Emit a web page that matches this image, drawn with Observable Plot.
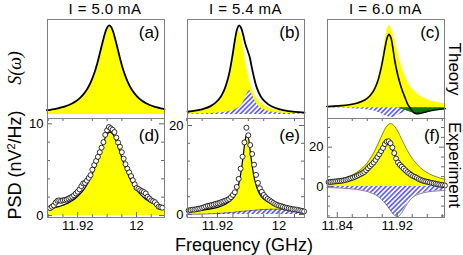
<!DOCTYPE html>
<html><head><meta charset="utf-8">
<script src="https://cdn.jsdelivr.net/npm/d3@7"></script>
<script src="https://cdn.jsdelivr.net/npm/@observablehq/plot@0.6"></script>
<style>
body{margin:0;background:#fff;}
#fig{position:relative;width:463px;height:255px;overflow:hidden;font-family:"Liberation Sans",Arial,Helvetica,sans-serif;background:#fff;}
.t{position:absolute;white-space:nowrap;color:#000;line-height:1;}
</style></head><body>
<svg width="0" height="0" style="position:absolute"><defs>
<pattern id="hatch" patternUnits="userSpaceOnUse" width="3.4" height="3.4" patternTransform="rotate(45)">
<rect width="3.4" height="3.4" fill="#fff"/><line x1="0.8" y1="0" x2="0.8" y2="3.4" stroke="#4d4dff" stroke-width="1.5"/>
</pattern></defs></svg>
<div id="fig"></div>
<script>
// ---------- DATA ----------
// (a) theory, I = 5.0 mA
const aFreq = [11.878,11.883,11.888,11.893,11.898,11.903,11.908,11.913,11.918,11.923,11.928,11.933,11.938,11.943,11.948,11.953,11.958,11.9605,11.963,11.9655,11.968,11.973,11.978,11.983,11.988,11.993,11.998,12.003,12.008,12.013,12.018,12.023,12.028,12.033,12.038];
const aS = [4.8,5.3,6.0,6.9,7.9,9.1,10.7,12.6,15.1,18.4,22.8,28.6,36.6,47.4,61.6,78.3,93.5,98.3,100,98.3,93.5,78.3,61.6,47.4,36.6,28.6,22.8,18.4,15.1,12.6,10.7,9.1,7.9,6.9,6.0];
// (b) theory, I = 5.4 mA
const bFreq = [11.881,11.891,11.901,11.911,11.921,11.928,11.934,11.939,11.943,11.9455,11.948,11.9505,11.953,11.956,11.959,11.9616,11.964,11.967,11.971,11.976,11.982,11.99,12.0,12.012,12.033];
const bYellow = [2.72,3.72,5.37,8.4,14.7,23.9,38.8,59.8,80.5,90.7,94,88.8,77.6,61.8,47.8,38.2,31.2,24.6,18.4,13.3,9.5,6.5,4.3,2.9,1.68];
const bHatch = [0.35,0.5,0.75,1.0,1.55,2.2,3.0,4.1,5.3,6.5,7.8,10,13,18,24,27,24,18.5,11.8,7.3,4.7,2.8,1.7,1.0,0.5];
const bTotal = [3.07,4.22,6.12,9.4,16.25,26.1,41.8,63.9,85.8,96,100,97.5,90.6,79.8,71.8,65.2,55.2,43.1,30.2,20.6,14.2,9.3,6.0,3.9,2.2];
// (c) theory, I = 6.0 mA
const cFreq = [11.826,11.836,11.846,11.856,11.866,11.874,11.879,11.884,11.889,11.894,11.899,11.9015,11.904,11.9065,11.909,11.9115,11.914,11.9165,11.919,11.9215,11.924,11.9265,11.929,11.9315,11.934,11.937,11.94,11.943,11.946,11.95,11.956,11.963,11.972,11.984];
const cYellow = [1.6,2.06,2.74,3.82,5.68,8.32,10.96,15.0,21.5,32.3,50.7,63.1,76.7,88.0,92.5,90.5,85.1,77.4,68.7,60.1,52.0,44.9,38.8,33.6,29.2,24.9,21.4,18.5,16.1,13.6,10.7,8.34,6.29,4.5];
const cHatch = [-0.37,-0.47,-0.61,-0.83,-1.19,-1.66,-2.1,-2.71,-3.58,-4.85,-6.63,-7.69,-8.8,-9.84,-10.6,-11,-10.8,-10.2,-9.2,-8.1,-7.04,-6.04,-5.17,-4.42,-3.8,-3.2,-2.71,-2.32,-2.0,-1.66,-1.28,-0.98,-0.73,-0.52];
const cTotal = [1.5,1.9,2.5,3.5,5.2,7.6,10.0,13.8,19.8,29.8,46.5,57.5,69,78.5,82.5,79,68,54,43,34,26.5,20,14.5,9,4,0,-3.5,-5.8,-6.5,-6.2,-5,-3.6,-2.2,-1];
const cGreenFreq = [11.92,11.925,11.93,11.935,11.94,11.945,11.95,11.956,11.963,11.972,11.984];
const cGreen = [0,-1,-2.5,-4,-5.5,-6.4,-6.3,-5.2,-3.8,-2.5,-1.5];
// (d) experiment, I = 5.0 mA  [frequency GHz, PSD nV^2/Hz]
const dPoints = [[11.8825,0.8],[11.885,0.95],[11.8875,1.1],[11.89,1.4],[11.8925,1.6],[11.895,1.65],[11.8975,1.6],[11.9,1.65],[11.9025,1.7],[11.905,1.75],[11.9075,1.85],[11.91,1.95],[11.9125,2.05],[11.915,2.2],[11.9175,2.4],[11.92,2.6],[11.9225,2.85],[11.925,3.2],[11.9275,3.5],[11.93,3.55],[11.9325,3.8],[11.935,4.1],[11.9375,4.4],[11.94,5.0],[11.9425,5.5],[11.945,5.95],[11.9475,6.4],[11.95,6.9],[11.9525,7.4],[11.955,8.0],[11.9575,8.8],[11.96,9.3],[11.9625,9.65],[11.965,9.5],[11.9675,9.35],[11.97,9.1],[11.9725,8.5],[11.975,7.95],[11.9775,7.5],[11.98,6.9],[11.9825,6.2],[11.985,5.6],[11.9875,5.1],[11.99,4.7],[11.9925,4.3],[11.995,3.85],[11.9975,3.4],[12.0,3.0],[12.0025,2.9],[12.005,2.75],[12.0075,2.65],[12.01,2.55],[12.0125,2.4],[12.015,2.05],[12.0175,1.85],[12.02,1.65],[12.0225,1.55],[12.025,1.45],[12.0275,1.2],[12.03,0.95],[12.0325,0.9],[12.035,0.85]];
const dFitFreq = [11.879,11.884,11.889,11.894,11.899,11.904,11.909,11.914,11.919,11.924,11.929,11.934,11.939,11.944,11.949,11.954,11.959,11.9615,11.964,11.9665,11.969,11.974,11.979,11.984,11.989,11.994,11.999,12.004,12.009,12.014,12.019,12.024,12.029,12.034,12.038];
const dFit = [0.67,0.75,0.845,0.96,1.09,1.26,1.46,1.70,2.02,2.41,2.91,3.55,4.36,5.37,6.55,7.75,8.72,9.0,9.1,9.0,8.72,7.75,6.55,5.37,4.36,3.55,2.91,2.41,2.02,1.70,1.46,1.26,1.09,0.96,0.86];
// (e) experiment, I = 5.4 mA
const ePoints = [[11.8825,0.9],[11.885,1.0],[11.8875,1.1],[11.89,1.1],[11.8925,1.2],[11.895,1.3],[11.8975,1.35],[11.9,1.5],[11.9025,1.65],[11.905,1.8],[11.9075,1.95],[11.91,2.0],[11.9125,2.15],[11.915,2.25],[11.9175,2.4],[11.92,2.5],[11.9225,2.6],[11.925,2.8],[11.9275,2.95],[11.93,3.1],[11.9325,3.3],[11.935,3.5],[11.9375,3.9],[11.94,4.4],[11.9425,5.0],[11.945,6.2],[11.9475,8.0],[11.95,10.3],[11.9525,13.0],[11.955,16.2],[11.9575,19.5],[11.96,17.8],[11.9625,15.6],[11.965,13.6],[11.9675,11.2],[11.97,8.9],[11.9725,7.1],[11.975,5.9],[11.9775,5.1],[11.98,4.4],[11.9825,3.9],[11.985,3.5],[11.9875,3.2],[11.99,2.9],[11.9925,2.6],[11.995,2.35],[11.9975,2.15],[12.0,2.0],[12.0025,1.9],[12.005,1.75],[12.0075,1.6],[12.01,1.5],[12.0125,1.4],[12.015,1.3],[12.0175,1.2],[12.02,1.15],[12.0225,1.1],[12.025,1.0],[12.0275,0.9],[12.03,0.8],[12.0325,0.7]];
const eFitFreq = [11.881,11.891,11.901,11.911,11.921,11.931,11.936,11.941,11.944,11.947,11.950,11.952,11.954,11.956,11.958,11.960,11.962,11.964,11.966,11.968,11.971,11.974,11.978,11.984,11.992,12.002,12.012,12.022,12.033];
const eHatch = [0.05,0.07,0.1,0.17,0.25,0.38,0.45,0.5,0.58,0.63,0.68,0.71,0.74,0.77,0.8,0.83,0.86,0.89,0.93,0.96,1.0,1.05,1.1,1.17,1.2,1.17,1.07,0.97,0.9];
const eTotal = [0.6,0.77,1.0,1.27,1.65,2.38,2.95,3.8,4.78,6.43,8.98,11.31,14.04,16.77,18.0,17.33,14.86,12.19,9.83,7.96,6.1,4.85,3.8,2.97,2.3,1.87,1.52,1.27,1.1];
// (f) experiment, I = 6.0 mA
const fPoints = [[11.8285,2.2],[11.831,2.3],[11.8335,2.4],[11.836,2.5],[11.8385,2.6],[11.841,2.7],[11.8435,2.8],[11.846,2.9],[11.8485,3.1],[11.851,3.3],[11.8535,3.6],[11.856,3.9],[11.8585,4.2],[11.861,4.5],[11.8635,4.9],[11.866,5.3],[11.8685,5.8],[11.871,6.3],[11.8735,6.8],[11.876,7.4],[11.8785,8.3],[11.881,9.3],[11.8835,10.3],[11.886,11.2],[11.8885,12.2],[11.891,13.5],[11.8935,15.0],[11.896,16.4],[11.8985,18.0],[11.901,19.6],[11.9035,21.6],[11.906,22.8],[11.9085,23.0],[11.911,22.0],[11.9135,19.8],[11.916,17.0],[11.9185,14.2],[11.921,12.2],[11.9235,11.0],[11.926,10.1],[11.9285,9.1],[11.931,8.2],[11.9335,7.3],[11.936,6.6],[11.9385,5.9],[11.941,5.3],[11.9435,4.9],[11.946,4.4],[11.9485,3.8],[11.951,3.4],[11.9535,3.0],[11.956,2.7],[11.9585,2.5],[11.961,2.3],[11.9635,2.0],[11.966,1.8],[11.9685,1.6],[11.971,1.4],[11.9735,1.2],[11.976,1.0],[11.9785,0.8],[11.981,0.7],[11.9835,0.5]];
const fFitFreq = [11.826,11.836,11.846,11.856,11.866,11.876,11.881,11.886,11.891,11.896,11.901,11.906,11.911,11.916,11.921,11.926,11.931,11.936,11.941,11.946,11.951,11.956,11.961,11.966,11.976,11.984];
const fYellow = [2.36,2.97,3.84,5.12,7.08,10.23,12.49,15.35,18.89,23.0,27.27,30.67,32,30.86,27.88,24.0,20.1,16.63,13.73,11.38,9.5,8.01,6.81,5.84,4.41,3.6];
const fHatch = [-0.54,-0.67,-0.85,-1.12,-1.53,-2.19,-2.69,-3.35,-4.26,-5.51,-7.24,-9.53,-12.24,-14.58,-15.3,-13.3,-10.17,-7.41,-5.4,-4.3,-3.6,-3.1,-2.75,-2.5,-2.2,-2.0];
const fTotal = [2.0,2.4,2.9,3.8,5.2,7.6,9.2,11.2,13.6,16.5,19.5,21.7,20.5,16.5,12.5,10.0,8.3,6.9,5.7,4.6,3.6,2.9,2.3,1.8,1.0,0.5];
// tick labels
const xTicksLeft = [11.92, 12];      const xLabelsLeft = ["11.92", "12"];
const xTicksRight = [11.84, 11.92];  const xLabelsRight = ["11.84", "11.92"];
const dYTicks = [0, 10];  const dYLabels = ["0", "10"];
const eYTicks = [0, 20];  const eYLabels = ["0", "20"];
const fYTicks = [0, 20];  const fYLabels = ["0", "20"];
const titles = ["I = 5.0 mA", "I = 5.4 mA", "I = 6.0 mA"];
const panelLetters = ["(a)", "(b)", "(c)", "(d)", "(e)", "(f)"];

// ---------- DRAWING ----------
const fig = document.getElementById("fig");
const FONT = "'Liberation Sans', Arial, Helvetica, sans-serif";
const YEL = "#ffff00", FRAME = "#808080", TICK = "#666";
const CURVE = "catmull-rom";
const rows = (fs, vs) => fs.map((f, i) => ({f, v: vs[i]}));
const rows2 = (fs, a, b) => fs.map((f, i) => ({f, a: a[i], b: b[i]}));
const pts = (p) => p.map(([f, v]) => ({f, v}));

const FW = 117, FH = 99;
const COLS = [46.5, 187, 327];
const TOP1 = 19, TOP2 = 118;

function panel({col, top, xDomain, yDomain, marks, ml = 0, mb = 0, extra = []}) {
  const mr = 2, mt = 2;
  const svg = Plot.plot({
    width: FW + ml + mr, height: FH + mt + mb,
    marginLeft: ml, marginRight: mr, marginTop: mt, marginBottom: mb,
    x: {domain: xDomain, axis: null}, y: {domain: yDomain, axis: null},
    style: {fontFamily: FONT, fontSize: "13px", background: "transparent", overflow: "visible", color: "#000"},
    marks: [...marks, ...extra, Plot.frame({stroke: FRAME, strokeWidth: 1})]
  });
  svg.style.position = "absolute";
  svg.style.left = (COLS[col] - ml) + "px";
  svg.style.top = (top - mt) + "px";
  fig.appendChild(svg);
}

function inTicks(xMinor, xMajor, yMinor, yMajor) {
  return [
    Plot.tickX(xMinor, {x: d => d, insetTop: FH - 3, stroke: TICK}),
    Plot.tickX(xMajor, {x: d => d, insetTop: FH - 5, stroke: TICK}),
    Plot.tickX(xMinor, {x: d => d, insetBottom: FH - 3, stroke: TICK}),
    Plot.tickY(yMinor, {y: d => d, insetRight: FW - 3, stroke: TICK}),
    Plot.tickY(yMajor, {y: d => d, insetRight: FW - 5, stroke: TICK}),
    Plot.tickY(yMinor, {y: d => d, insetLeft: FW - 3, stroke: TICK}),
    Plot.tickY(yMajor, {y: d => d, insetLeft: FW - 5, stroke: TICK})
  ];
}
function labelsX(ticks, labels) {
  return Plot.axisX(ticks, {anchor: "bottom", label: null, tickSize: 0, tickPadding: 3, fontSize: 13, tickFormat: (d, i) => labels[i]});
}
function labelsY(ticks, labels) {
  return Plot.axisY(ticks, {anchor: "left", label: null, tickSize: 0, tickPadding: 4, fontSize: 13, tickFormat: (d, i) => labels[i]});
}

const xDomL = [11.879, 12.038], xDomM = [11.881, 12.033], xDomR = [11.827, 11.983];

// (a)
panel({col: 0, top: TOP1, xDomain: xDomL, yDomain: [-4.5, 106.7], marks: [
  Plot.areaY(rows(aFreq, aS), {x: "f", y1: 0, y2: "v", fill: YEL, curve: CURVE}),
  Plot.line(rows(aFreq, aS), {x: "f", y: "v", stroke: "#000", strokeWidth: 1.8, curve: CURVE})
]});
// (b)
panel({col: 1, top: TOP1, xDomain: xDomM, yDomain: [-4.5, 106.7], marks: [
  Plot.areaY(rows(bFreq, bYellow), {x: "f", y1: 0, y2: "v", fill: YEL, curve: CURVE}),
  Plot.areaY(rows(bFreq, bHatch), {x: "f", y1: 0, y2: "v", fill: "url(#hatch)", curve: CURVE}),
  Plot.line(rows(bFreq, bTotal), {x: "f", y: "v", stroke: "#000", strokeWidth: 1.8, curve: CURVE})
]});
// (c)
panel({col: 2, top: TOP1, xDomain: xDomR, yDomain: [-12, 99.2], marks: [
  Plot.areaY(rows(cFreq, cYellow), {x: "f", y1: 0, y2: "v", fill: YEL, curve: CURVE}),
  Plot.areaY(rows(cFreq, cHatch), {x: "f", y1: 0, y2: "v", fill: "url(#hatch)", curve: CURVE}),
  Plot.areaY(rows(cGreenFreq, cGreen), {x: "f", y1: 0, y2: "v", fill: "#0a7d0a", curve: CURVE}),
  Plot.line(rows(cFreq, cTotal), {x: "f", y: "v", stroke: "#000", strokeWidth: 1.6, curve: CURVE})
]});
// (d)
const dMinorX = [11.88, 11.90, 11.94, 11.96, 11.98, 12.02], dMajorX = [11.92, 12.0];
panel({col: 0, top: TOP2, xDomain: xDomL, yDomain: [-0.22, 10.58], ml: 40, mb: 20, marks: [
  Plot.areaY(rows(dFitFreq, dFit), {x: "f", y1: 0, y2: "v", fill: YEL, curve: CURVE}),
  Plot.line(rows(dFitFreq, dFit), {x: "f", y: "v", stroke: "#000", strokeWidth: 1.2, curve: CURVE}),
  Plot.dot(pts(dPoints), {x: "f", y: "v", r: 2.5, fill: "#fff", stroke: "#000", strokeWidth: 0.8})
], extra: [...inTicks(dMinorX, dMajorX, [2, 4, 6, 8], [0, 10]), labelsX(xTicksLeft, xLabelsLeft), labelsY(dYTicks, dYLabels)]});
// (e)
panel({col: 1, top: TOP2, xDomain: xDomM, yDomain: [-0.67, 21.57], ml: 40, mb: 20, marks: [
  Plot.areaY(rows(eFitFreq, eHatch), {x: "f", y1: 0, y2: "v", fill: "url(#hatch)", curve: CURVE}),
  Plot.areaY(rows2(eFitFreq, eHatch, eTotal), {x: "f", y1: "a", y2: "b", fill: YEL, curve: CURVE}),
  Plot.line(rows(eFitFreq, eHatch), {x: "f", y: "v", stroke: "#333", strokeWidth: 0.6, curve: CURVE}),
  Plot.line(rows(eFitFreq, eTotal), {x: "f", y: "v", stroke: "#000", strokeWidth: 1.2, curve: CURVE}),
  Plot.dot(pts(ePoints), {x: "f", y: "v", r: 2.5, fill: "#fff", stroke: "#000", strokeWidth: 0.8})
], extra: [...inTicks(dMinorX, dMajorX, [4, 8, 12, 16], [0, 20]), labelsX(xTicksLeft, xLabelsLeft), labelsY(eYTicks, eYLabels)]});
// (f)
panel({col: 2, top: TOP2, xDomain: xDomR, yDomain: [-15.8, 34.6], ml: 40, mb: 20, marks: [
  Plot.areaY(rows(fFitFreq, fYellow), {x: "f", y1: 0, y2: "v", fill: YEL, curve: CURVE}),
  Plot.areaY(rows(fFitFreq, fHatch), {x: "f", y1: 0, y2: "v", fill: "url(#hatch)", curve: CURVE}),
  Plot.line(rows(fFitFreq, fYellow), {x: "f", y: "v", stroke: "#333", strokeWidth: 0.6, curve: CURVE}),
  Plot.line(rows(fFitFreq, fHatch), {x: "f", y: "v", stroke: "#333", strokeWidth: 0.6, curve: CURVE}),
  Plot.line(rows(fFitFreq, fTotal), {x: "f", y: "v", stroke: "#000", strokeWidth: 1.2, curve: CURVE}),
  Plot.dot(pts(fPoints), {x: "f", y: "v", r: 2.5, fill: "#fff", stroke: "#000", strokeWidth: 0.8})
], extra: [...inTicks([11.86, 11.88, 11.90, 11.94, 11.96, 11.98], [11.84, 11.92], [-15, -10, -5, 5, 10, 15, 25, 30], [0, 20]), labelsX(xTicksRight, xLabelsRight), labelsY(fYTicks, fYLabels)]});

// ---------- TEXT ----------
function text(str, x, y, css) {
  const d = document.createElement("div");
  d.className = "t";
  d.textContent = str;
  d.style.left = x + "px"; d.style.top = y + "px";
  Object.assign(d.style, css || {});
  fig.appendChild(d);
  return d;
}
const centers = COLS.map(c => c + FW / 2);
titles.forEach((t, i) => text(t, centers[i], 0, {fontSize: "15px", lineHeight: "normal", letterSpacing: "0.4px", transform: "translateX(-50%)"}));
panelLetters.forEach((t, i) => {
  const col = i % 3, top = i < 3 ? TOP1 + 5 : TOP2 + 9;
  text(t, COLS[col] + FW - 4, top, {fontSize: "17px", transform: "translateX(-100%)"});
});
const s = text("", 15, 68, {fontSize: "18px", fontFamily: "'Liberation Serif','Times New Roman',serif", fontStyle: "italic", transform: "translate(-50%,-50%) rotate(-90deg)"});
s.innerHTML = "S(&omega;)";
const psd = text("", 15, 165, {fontSize: "18px", transform: "translate(-50%,-50%) rotate(-90deg)"});
psd.innerHTML = "PSD (nV<sup style='font-size:11px;vertical-align:6px;line-height:0'>2</sup>/Hz)";
text("Theory", 454, 69, {fontSize: "17px", transform: "translate(-50%,-50%) rotate(90deg)"});
text("Experiment", 454, 165, {fontSize: "17px", transform: "translate(-50%,-50%) rotate(90deg)"});
text("Frequency (GHz)", 244, 245, {fontSize: "18px", transform: "translate(-50%,-50%)"});
</script>
</body></html>
